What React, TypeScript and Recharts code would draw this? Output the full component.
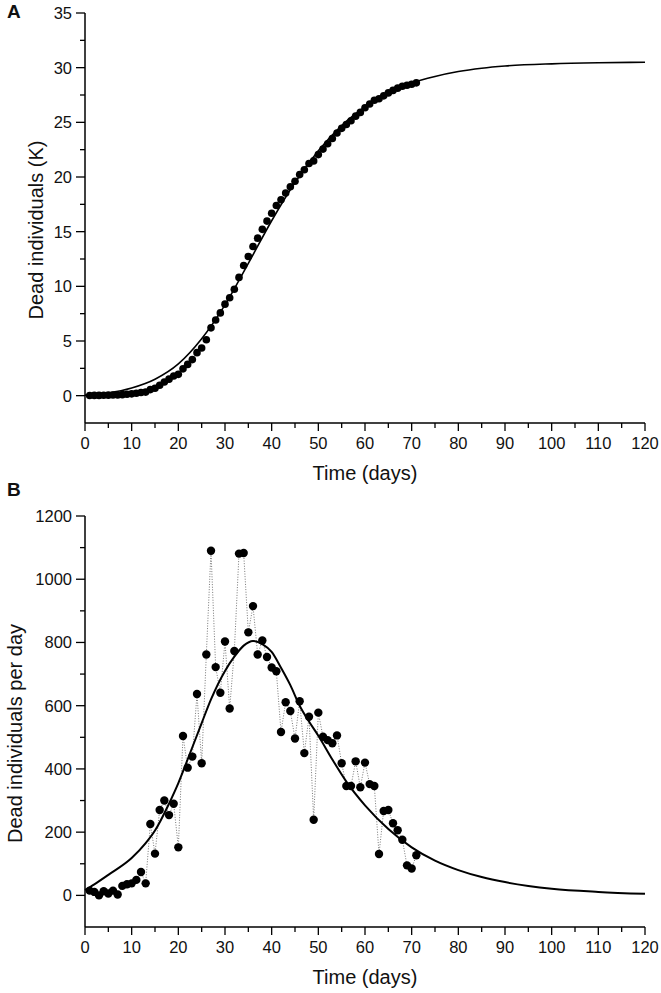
import React from "react";
import { ComposedChart, Line, XAxis, YAxis, Label } from "recharts";

// observed days (x) for both panels
const days = [
  1, 2, 3, 4, 5, 6, 7, 8, 9, 10, 11, 12, 13, 14, 15, 16, 17, 18, 19, 20,
  21, 22, 23, 24, 25, 26, 27, 28, 29, 30, 31, 32, 33, 34, 35, 36, 37, 38, 39, 40,
  41, 42, 43, 44, 45, 46, 47, 48, 49, 50, 51, 52, 53, 54, 55, 56, 57, 58, 59, 60,
  61, 62, 63, 64, 65, 66, 67, 68, 69, 70, 71,
];

// panel A: cumulative dead (thousands)
const cumulativeK = [
  0.015, 0.026, 0.026, 0.039, 0.045, 0.06, 0.063, 0.093, 0.128, 0.166,
  0.215, 0.289, 0.327, 0.553, 0.685, 0.955, 1.255, 1.509, 1.799, 1.951,
  2.455, 2.859, 3.298, 3.935, 4.353, 5.115, 6.205, 6.927, 7.568, 8.371,
  8.962, 9.735, 10.816, 11.899, 12.731, 13.646, 14.408, 15.214, 15.968, 16.689,
  17.398, 17.915, 18.526, 19.109, 19.605, 20.219, 20.669, 21.234, 21.473, 22.051,
  22.553, 23.044, 23.525, 24.031, 24.449, 24.795, 25.141, 25.565, 25.907, 26.327,
  26.679, 27.025, 27.156, 27.423, 27.693, 27.921, 28.127, 28.303, 28.398, 28.483,
  28.61,
];

// panel B: dead per day
const dailyDeaths = [
  15, 11, 0, 13, 6, 15, 3, 30, 35, 38,
  49, 74, 38, 226, 132, 270, 300, 254, 290, 152,
  504, 404, 439, 637, 418, 762, 1090, 722, 641, 803,
  591, 773, 1081, 1083, 832, 915, 762, 806, 754, 721,
  709, 517, 611, 583, 496, 614, 450, 565, 239, 578,
  502, 491, 481, 506, 418, 346, 346, 424, 342, 420,
  352, 346, 131, 267, 270, 228, 206, 176, 95, 85,
  127,
];

// fitted model curves
const fitDaysA = [0, 5, 10, 15, 20, 25, 30, 35, 40, 45, 50, 55, 60, 65, 70, 75, 80, 85, 90, 100, 110, 120];
const fitCumulativeK = [
  0.05, 0.25, 0.7, 1.5, 2.9, 5.2, 8.3, 12.1, 16.0, 19.5, 22.4, 24.7, 26.4, 27.7,
  28.6, 29.2, 29.65, 29.95, 30.15, 30.35, 30.45, 30.5,
];

const fitDaysB = [
  0, 2, 5, 10, 13, 15, 18, 20, 22, 25, 27, 30, 32, 34, 36, 38, 40, 42, 44, 46, 48, 50,
  53, 56, 60, 65, 70, 75, 80, 85, 90, 95, 100, 110, 120,
];
const fitDaily = [
  17, 35, 65, 118, 165, 205, 290, 355, 430, 545, 620, 710, 755, 790, 805, 795, 770,
  720, 665, 600, 550, 505, 430, 360, 285, 210, 152, 110, 80, 58, 42, 30, 21, 11, 5,
];

const timeTicks = [0, 5, 10, 15, 20, 25, 30, 35, 40, 45, 50, 55, 60, 65, 70, 75, 80, 85, 90, 95, 100, 105, 110, 115, 120];
const cumTicks = [0, 2.5, 5, 7.5, 10, 12.5, 15, 17.5, 20, 22.5, 25, 27.5, 30, 32.5, 35];
const dailyTicks = [0, 100, 200, 300, 400, 500, 600, 700, 800, 900, 1000, 1100, 1200];

const FONT = "'Liberation Sans', Arial, sans-serif";
const INK = "#111";

const ptsA = days.map((t, i) => ({ t, v: cumulativeK[i] }));
const fitA = fitDaysA.map((t, i) => ({ t, v: fitCumulativeK[i] }));
const ptsB = days.map((t, i) => ({ t, v: dailyDeaths[i] }));
const fitB = fitDaysB.map((t, i) => ({ t, v: fitDaily[i] }));

const XTick = (props: any) => {
  const { x, y, payload } = props;
  const v = payload.value;
  const major = v % 10 === 0;
  return (
    <g>
      <line x1={x} x2={x} y1={y} y2={y + (major ? 8 : 5)} stroke="#000" strokeWidth={1.3} />
      {major && (
        <text x={x} y={y + 26} textAnchor="middle" fontSize={16.5} fontFamily={FONT} fill={INK}>
          {v}
        </text>
      )}
    </g>
  );
};

const yTick = (step: number) => (props: any) => {
  const { x, y, payload } = props;
  const v = payload.value;
  const major = v % step === 0;
  return (
    <g>
      <line x1={x - (major ? 9 : 5)} x2={x} y1={y} y2={y} stroke="#000" strokeWidth={1.3} />
      {major && (
        <text x={x - 13} y={y + 6} textAnchor="end" fontSize={16.5} fontFamily={FONT} fill={INK}>
          {v}
        </text>
      )}
    </g>
  );
};

// rotated y-axis title, sitting a little below the axis middle like the original
const yTitle = (text: string, cx: number) => (props: any) => {
  const vb = props.viewBox || {};
  const cy = vb.y + vb.height / 2 + 12;
  return (
    <text
      x={cx}
      y={cy}
      transform={`rotate(-90 ${cx} ${cy})`}
      textAnchor="middle"
      dominantBaseline="central"
      fontSize={20}
      fontFamily={FONT}
      fill={INK}
    >
      {text}
    </text>
  );
};

const axisLine = { stroke: "#000", strokeWidth: 1.5 };
const titleStyle = { textAnchor: "middle" as const, fontSize: 20, fontFamily: FONT, fill: INK };

const dot = (r: number) => ({ r, fill: "#000", stroke: "none" });

export default function App() {
  return (
    <div style={{ position: "absolute", left: 0, top: 0, width: 661, height: 993, background: "#fff" }}>
      <div style={{ position: "absolute", left: 7, top: 2, fontFamily: FONT, fontWeight: "bold", fontSize: 19, lineHeight: "19px", color: INK }}>
        A
      </div>
      <div style={{ position: "absolute", left: 7, top: 480, fontFamily: FONT, fontWeight: "bold", fontSize: 19, lineHeight: "19px", color: INK }}>
        B
      </div>

      <div style={{ position: "absolute", left: 0, top: 0 }}>
        <ComposedChart width={661} height={490} margin={{ top: 13, right: 16, bottom: 0, left: 0 }}>
          <XAxis
            dataKey="t"
            type="number"
            domain={[0, 120]}
            ticks={timeTicks}
            interval={0}
            height={67}
            tickSize={0}
            tickMargin={0}
            tickLine={false}
            axisLine={axisLine}
            tick={XTick}
          >
            <Label value="Time (days)" position="insideTop" offset={43} style={titleStyle} />
          </XAxis>
          <YAxis
            type="number"
            domain={[-2.5, 35]}
            ticks={cumTicks}
            interval={0}
            width={85}
            tickSize={0}
            tickMargin={0}
            tickLine={false}
            axisLine={axisLine}
            tick={yTick(5)}
          >
            <Label content={yTitle("Dead individuals (K)", 36)} />
          </YAxis>
          <Line data={fitA} dataKey="v" type="monotone" stroke="#000" strokeWidth={1.6} dot={false} activeDot={false} isAnimationActive={false} />
          <Line data={ptsA} dataKey="v" type="linear" stroke="none" dot={dot(3.8)} activeDot={false} isAnimationActive={false} />
        </ComposedChart>
      </div>

      <div style={{ position: "absolute", left: 0, top: 490 }}>
        <ComposedChart width={661} height={503} margin={{ top: 26, right: 16, bottom: 0, left: 0 }}>
          <XAxis
            dataKey="t"
            type="number"
            domain={[0, 120]}
            ticks={timeTicks}
            interval={0}
            height={66}
            tickSize={0}
            tickMargin={0}
            tickLine={false}
            axisLine={axisLine}
            tick={XTick}
          >
            <Label value="Time (days)" position="insideTop" offset={43} style={titleStyle} />
          </XAxis>
          <YAxis
            type="number"
            domain={[-100, 1200]}
            ticks={dailyTicks}
            interval={0}
            width={85}
            tickSize={0}
            tickMargin={0}
            tickLine={false}
            axisLine={axisLine}
            tick={yTick(200)}
          >
            <Label content={yTitle("Dead individuals per day", 15)} />
          </YAxis>
          <Line data={ptsB} dataKey="v" type="linear" stroke="#777" strokeWidth={1} strokeDasharray="1 1.6" dot={false} activeDot={false} isAnimationActive={false} />
          <Line data={fitB} dataKey="v" type="monotone" stroke="#000" strokeWidth={2} dot={false} activeDot={false} isAnimationActive={false} />
          <Line data={ptsB} dataKey="v" type="linear" stroke="none" dot={dot(4.2)} activeDot={false} isAnimationActive={false} />
        </ComposedChart>
      </div>
    </div>
  );
}
